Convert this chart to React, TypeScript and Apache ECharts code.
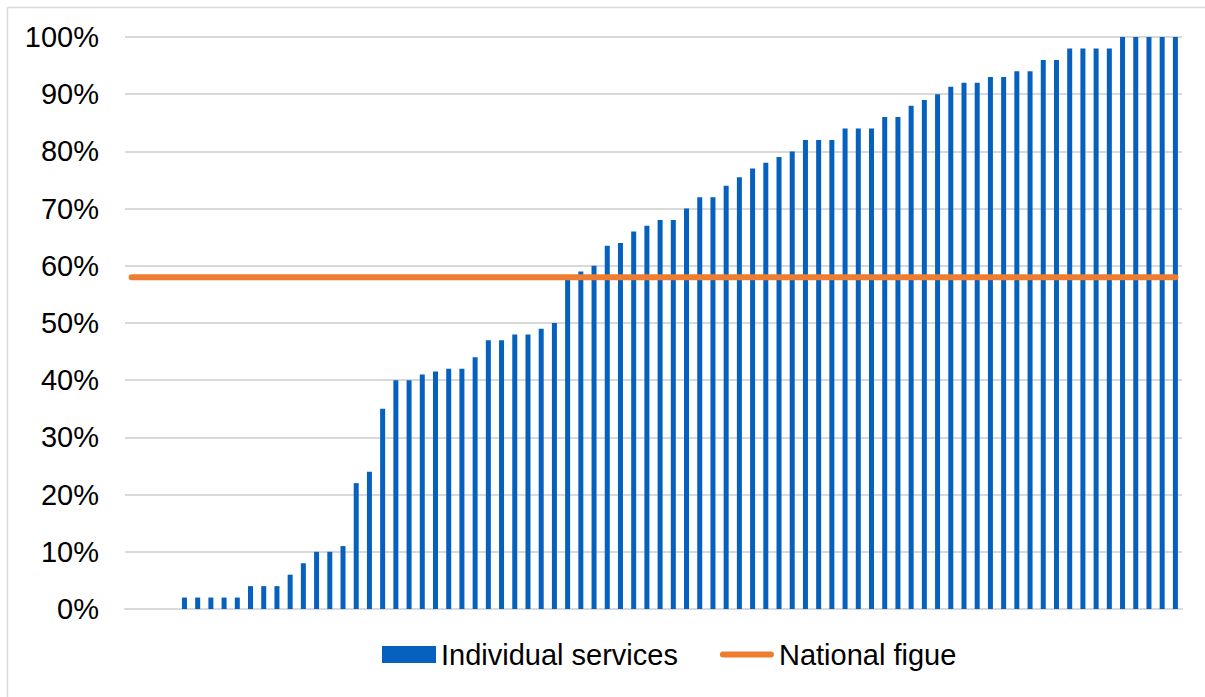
import React, { useEffect, useRef } from "react";
import * as echarts from "echarts";

const leadingEmpty = [0, 0, 0, 0];
const serviceValues = [
  2, 2, 2, 2, 2, 4, 4, 4, 6, 8, 10, 10, 11, 22, 24, 35, 40, 40,
  41, 41.5, 42, 42, 44, 47, 47, 48, 48, 49, 50,
  58, 59, 60, 63.5, 64, 66, 67, 68, 68, 70,
  72, 72, 74, 75.5, 77, 78, 79, 80, 82, 82,
  82, 84, 84, 84, 86, 86, 88, 89, 90, 91.3,
  92, 92, 93, 93, 94, 94, 96, 96, 98, 98,
  98, 98, 100, 100, 100, 100, 100,
];
const allValues = [...leadingEmpty, ...serviceValues];
const categories = allValues.map((_, i) => `Service ${i + 1}`);
const nationalFigure = 58;
const nationalValues = categories.map(() => nationalFigure);
const yTicks = { min: 0, max: 100, interval: 10 };

const FONT = "'Liberation Sans', Arial, Helvetica, sans-serif";
const LINE_ICON =
  "path://M0,0 M54,17 M3,5.5 L51,5.5 A3,3 0 0 1 51,11.5 L3,11.5 A3,3 0 0 1 3,5.5 Z";

export default function App() {
  const ref = useRef<HTMLDivElement>(null);
  useEffect(() => {
    if (!ref.current) return;
    const chart = echarts.init(ref.current, null, { renderer: "svg" });
    chart.setOption({
      animation: false,
      backgroundColor: "#fff",
      textStyle: { fontFamily: FONT },
      grid: { left: 125, right: 23, top: 37, bottom: 88, containLabel: false },
      xAxis: {
        type: "category",
        data: categories,
        boundaryGap: true,
        axisLine: { show: true, lineStyle: { color: "#D9D9D9", width: 2 } },
        axisTick: { show: false },
        axisLabel: { show: false },
        splitLine: { show: false },
      },
      yAxis: {
        type: "value",
        min: yTicks.min,
        max: yTicks.max,
        interval: yTicks.interval,
        axisLine: { show: false },
        axisTick: { show: false },
        axisLabel: {
          formatter: "{value}%",
          fontSize: 29,
          color: "#000",
          margin: 26,
          fontFamily: FONT,
        },
        splitLine: { show: true, lineStyle: { color: "#D9D9D9", width: 2 } },
      },
      legend: {
        left: 377,
        top: 635,
        itemWidth: 54,
        itemHeight: 17,
        itemGap: 42,
        textStyle: { fontSize: 29, color: "#000", fontFamily: FONT },
        data: [
          { name: "Individual services", icon: "rect" },
          { name: "National figue", icon: LINE_ICON },
        ],
      },
      series: [
        {
          name: "Individual services",
          type: "bar",
          data: allValues,
          barWidth: 5,
          itemStyle: { color: "#0560BE" },
          z: 2,
        },
        {
          name: "National figue",
          type: "line",
          data: nationalValues,
          symbol: "none",
          showSymbol: false,
          lineStyle: { color: "#ED7D31", width: 6, cap: "round" },
          itemStyle: { color: "#ED7D31" },
          z: 3,
        },
      ],
      graphic: [
        {
          type: "line",
          shape: { x1: 7.5, y1: 7.5, x2: 1205, y2: 7.5 },
          style: { stroke: "#D9D9D9", lineWidth: 1.5 },
        },
        {
          type: "line",
          shape: { x1: 7.5, y1: 7.5, x2: 7.5, y2: 697 },
          style: { stroke: "#D9D9D9", lineWidth: 1.5 },
        },
      ],
    });
    return () => chart.dispose();
  }, []);
  return (
    <div
      ref={ref}
      style={{ position: "absolute", left: 0, top: 0, width: 1205, height: 697 }}
    />
  );
}
